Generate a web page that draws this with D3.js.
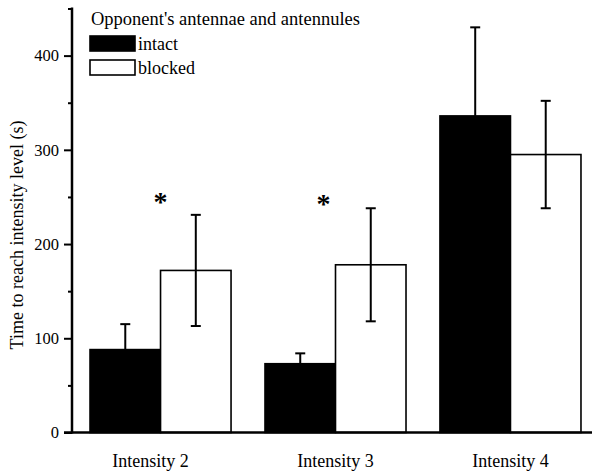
<!DOCTYPE html>
<html>
<head>
<meta charset="utf-8">
<script src="https://cdn.jsdelivr.net/npm/d3@7"></script>
<style>
  body { margin: 0; background: #fff; }
  svg text { font-family: "Times New Roman", "Liberation Serif", Times, serif; fill: #000; }
</style>
</head>
<body>
<div id="chart"></div>
<script>
// chart data
let categories = ['Intensity 2', 'Intensity 3', 'Intensity 4']
let intact = [88, 73, 336]
let intactErr = [27, 11, 94]
let blocked = [172, 178, 295]
let blockedErr = [59, 60, 57]
let significant = [true, true, false]
let yTicks = [0, 100, 200, 300, 400]

let width = 592, height = 474
let serif = '"Times New Roman", "Liberation Serif", Times, serif'

let svg = d3.select('#chart').append('svg')
  .attr('width', width)
  .attr('height', height)

let x = d3.scaleBand().domain(categories).range([72, 599]).paddingInner(0.194).paddingOuter(0.103)
let sub = d3.scaleBand().domain(['intact', 'blocked']).range([0, x.bandwidth()])
let y = d3.scaleLinear().domain([0, 450]).range([432.5, 8.5])

let rows = categories.map(function(c, i) {
  return [
    {cat: c, key: 'intact', v: intact[i], e: intactErr[i], both: false},
    {cat: c, key: 'blocked', v: blocked[i], e: blockedErr[i], both: true}
  ]
})

// bars
let group = svg.selectAll('.grp')
  .data(rows)
  .enter().append('g')
  .attr('class', 'grp')
  .attr('transform', function(d) { return 'translate(' + x(d[0].cat) + ',0)' })

group.selectAll('rect')
  .data(function(d) { return d })
  .enter().append('rect')
  .attr('x', function(d) { return sub(d.key) })
  .attr('y', function(d) { return y(d.v) })
  .attr('width', sub.bandwidth())
  .attr('height', function(d) { return y(0) - y(d.v) })
  .attr('fill', function(d) { return d.key == 'intact' ? '#000' : '#fff' })
  .attr('stroke', '#000')
  .attr('stroke-width', 1.6)

// error bars
let err = group.selectAll('.err')
  .data(function(d) { return d })
  .enter().append('g')
  .attr('class', 'err')
  .attr('transform', function(d) { return 'translate(' + (sub(d.key) + sub.bandwidth() / 2) + ',0)' })

err.append('line')
  .attr('y1', function(d) { return d.both ? y(d.v - d.e) : y(d.v) })
  .attr('y2', function(d) { return y(d.v + d.e) })
  .attr('stroke', '#000')
  .attr('stroke-width', 2)

err.append('line')
  .attr('x1', -5).attr('x2', 5)
  .attr('y1', function(d) { return y(d.v + d.e) })
  .attr('y2', function(d) { return y(d.v + d.e) })
  .attr('stroke', '#000').attr('stroke-width', 2)

err.filter(function(d) { return d.both }).append('line')
  .attr('x1', -5).attr('x2', 5)
  .attr('y1', function(d) { return y(d.v - d.e) })
  .attr('y2', function(d) { return y(d.v - d.e) })
  .attr('stroke', '#000').attr('stroke-width', 2)

// significance stars
svg.selectAll('.star')
  .data(categories.filter(function(c, i) { return significant[i] }))
  .enter().append('text')
  .attr('class', 'star')
  .attr('x', function(d, i) { return x(d) + sub.bandwidth() - (i == 0 ? 0 : 12) })
  .attr('y', function(d, i) { return y(250) + 14 + i * 2 })
  .attr('text-anchor', 'middle')
  .style('font-size', '28px')
  .style('font-weight', 'bold')
  .text('*')

// y axis
let yAxis = svg.append('g')
  .attr('transform', 'translate(72,0)')
  .call(d3.axisLeft(y).tickValues(yTicks).tickSize(8).tickPadding(5))
yAxis.select('.domain').remove()
yAxis.selectAll('.tick line').attr('stroke-width', 2)
yAxis.selectAll('.tick text').style('font-size', '16.5px').style('font-family', serif)

let yMinor = svg.append('g')
  .attr('transform', 'translate(72,0)')
  .call(d3.axisLeft(y).tickValues([50, 150, 250, 350, 450]).tickSize(4).tickFormat(''))
yMinor.select('.domain').remove()
yMinor.selectAll('.tick line').attr('stroke-width', 2)

svg.append('line')
  .attr('x1', 72).attr('x2', 72)
  .attr('y1', y(450) - 1).attr('y2', y(0) + 1)
  .attr('stroke', '#000').attr('stroke-width', 2.5)

// x axis
svg.append('line')
  .attr('x1', 64).attr('x2', width)
  .attr('y1', y(0)).attr('y2', y(0))
  .attr('stroke', '#000').attr('stroke-width', 2.5)

let xAxis = svg.append('g')
  .attr('transform', 'translate(0,' + y(0) + ')')
  .call(d3.axisBottom(x).tickSize(0).tickPadding(22))
xAxis.select('.domain').remove()
xAxis.selectAll('.tick text')
  .style('font-size', '18px')
  .style('font-family', serif)
  .attr('dx', function(d, i) { return i == 0 ? -10 : 0 })

// axis title
svg.append('text')
  .attr('transform', 'translate(23,' + 235 + ') rotate(-90)')
  .attr('text-anchor', 'middle')
  .style('font-size', '18px')
  .text('Time to reach intensity level (s)')

// legend
svg.append('text')
  .attr('x', 91).attr('y', 25)
  .style('font-size', '18.5px')
  .text("Opponent's antennae and antennules")

let legend = svg.selectAll('.legend')
  .data(['intact', 'blocked'])
  .enter().append('g')
  .attr('class', 'legend')
  .attr('transform', function(d, i) { return 'translate(90,' + (36 + i * 24) + ')' })

legend.append('rect')
  .attr('width', 45).attr('height', 15)
  .attr('fill', function(d) { return d == 'intact' ? '#000' : '#fff' })
  .attr('stroke', '#000').attr('stroke-width', 1.6)

legend.append('text')
  .attr('x', 48).attr('y', 14)
  .style('font-size', '18px')
  .text(function(d) { return d })
</script>
</body>
</html>
